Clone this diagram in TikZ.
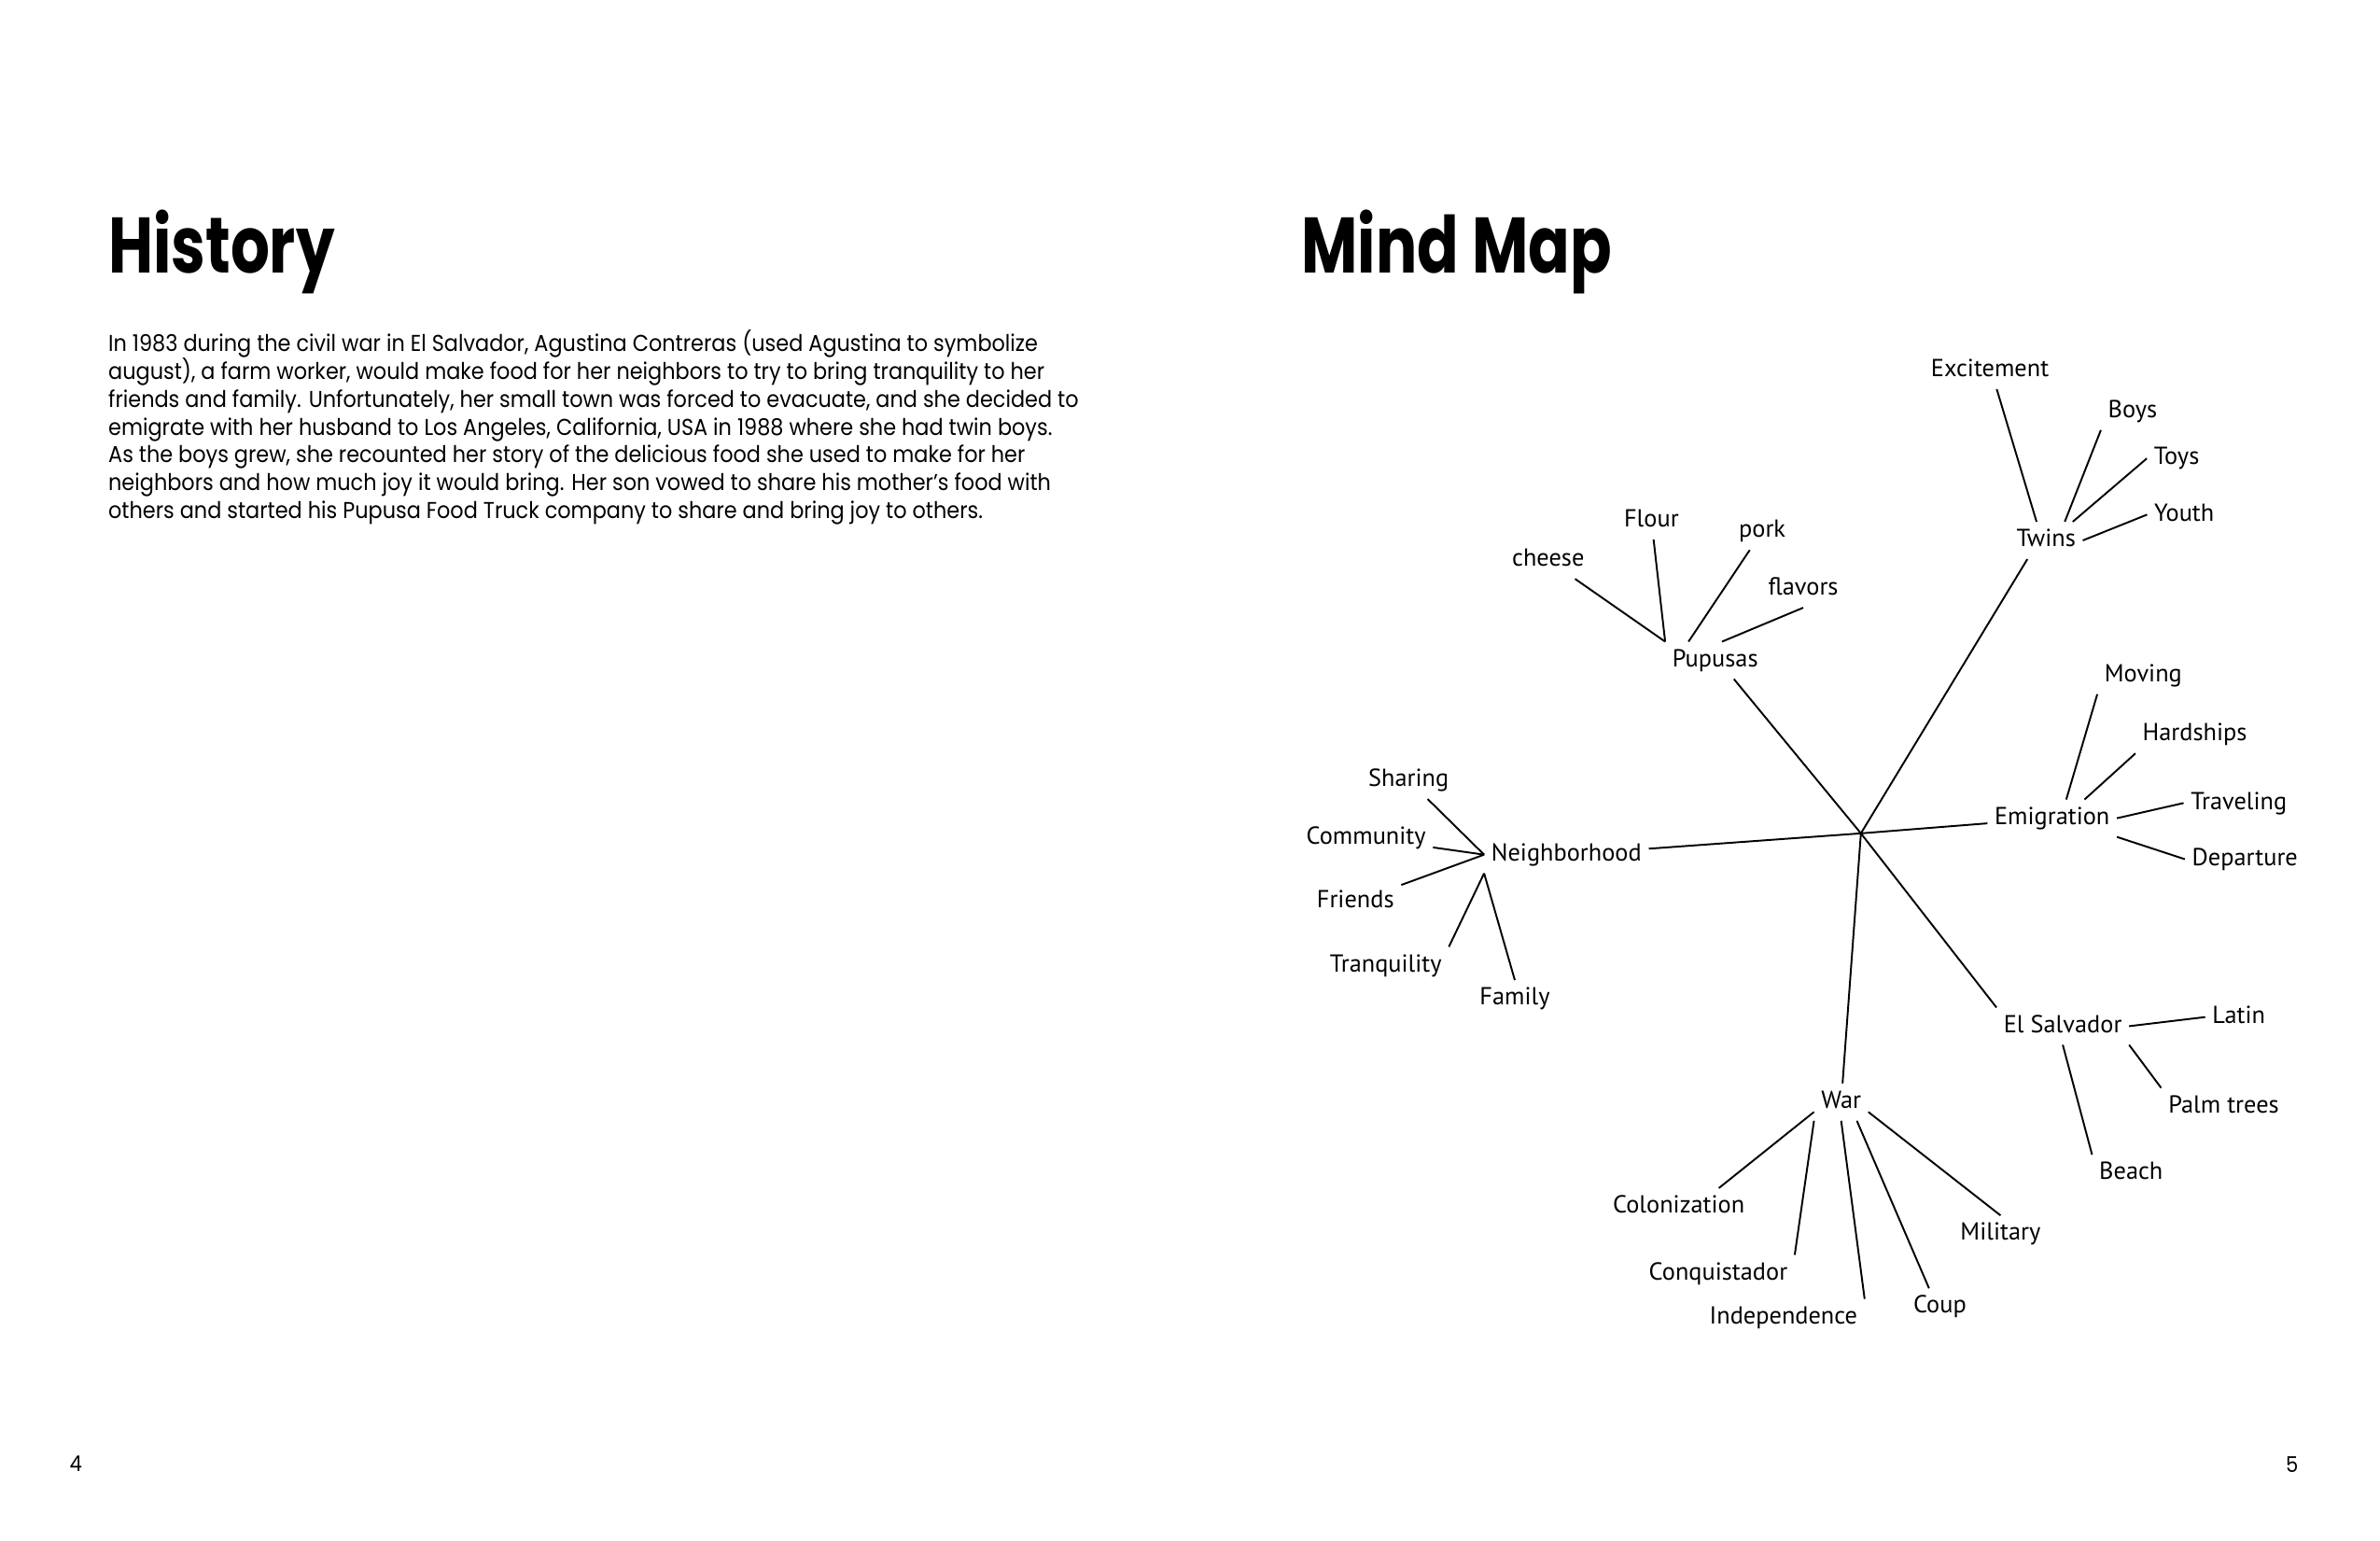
\documentclass[tikz,border=0pt]{standalone}
\usepackage{fontspec}
\setmainfont{PT Sans}
\newfontfamily\headfont{Poppins}[FakeStretch=0.78]
\newfontfamily\bodyfont{Poppins}[FakeStretch=0.91]
\usetikzlibrary{positioning}

\begin{document}
\begin{tikzpicture}[x=0.016263cm,y=-0.016263cm,
      ttl/.style={font=\headfont\bfseries\fontsize{24}{26}\selectfont,anchor=base west,inner sep=0pt},
      txt/.style={font=\bodyfont\fontsize{7}{8.5}\selectfont,align=left,inner sep=0pt},
      pgno/.style={font=\bodyfont\fontsize{6.6}{8}\selectfont,inner sep=0pt},
      lbl/.style={font=\fontsize{7.5}{9}\selectfont,inner sep=2pt,text height=5.4pt,text depth=1.6pt,yshift=-1.4pt},
      ln/.style={line width=0.55pt}]
    \useasboundingbox (0,0) rectangle (1568,1015);
    \node[ttl] (hist) at (71,180) {History};
    \node[ttl] (mmap) at (857,180) {Mind Map};
    \node[txt,below right=0.6cm and 0cm of hist.base west] (story) {In 1983 during the civil war in El Salvador, Agustina Contreras (used Agustina to symbolize\\
      august), a farm worker, would make food for her neighbors to try to bring tranquility to her\\
      friends and family. Unfortunately, her small town was forced to evacuate, and she decided to\\
      emigrate with her husband to Los Angeles, California, USA in 1988 where she had twin boys.\\
      As the boys grew, she recounted her story of the delicious food she used to make for her\\
      neighbors and how much joy it would bring. Her son vowed to share his mother’s food with\\
      others and started his Pupusa Food Truck company to share and bring joy to others.};
    \node[pgno] (pg4) at (50,964) {4};
    \node[pgno] (pg5) at (1510,965) {5};
    \coordinate (hub) at (1226,549);
    \node[lbl] (twins) at (1348,353) {Twins};
    \node[lbl] (excit) at (1311,241) {Excitement};
    \node[lbl] (boys) at (1405,268) {Boys};
    \node[lbl] (toys) at (1434,299) {Toys};
    \node[lbl] (youth) at (1439,336) {Youth};
    \node[lbl] (pupusas) at (1130,432) {Pupusas};
    \node[lbl] (cheese) at (1020,366) {cheese};
    \node[lbl] (flour) at (1088,340) {Flour};
    \node[lbl] (pork) at (1161,347) {pork};
    \node[lbl] (flavors) at (1188,385) {flavors};
    \node[lbl] (nbh) at (1032,560) {Neighborhood};
    \node[lbl] (sharing) at (928,511) {Sharing};
    \node[lbl] (community) at (900,549) {Community};
    \node[lbl] (friends) at (893,591) {Friends};
    \node[lbl] (tranq) at (913,633) {Tranquility};
    \node[lbl] (family) at (998,655) {Family};
    \node[lbl] (emig) at (1352,536) {Emigration};
    \node[lbl] (moving) at (1412,442) {Moving};
    \node[lbl] (hard) at (1446,481) {Hardships};
    \node[lbl] (travel) at (1475,526) {Traveling};
    \node[lbl] (depart) at (1479,563) {Departure};
    \node[lbl] (elsal) at (1359,673) {El Salvador};
    \node[lbl] (latin) at (1475,667) {Latin};
    \node[lbl] (palm) at (1465,726) {Palm trees};
    \node[lbl] (beach) at (1404,770) {Beach};
    \node[lbl] (war) at (1213,723) {War};
    \node[lbl] (colon) at (1106,792) {Colonization};
    \node[lbl] (conq) at (1132,836) {Conquistador};
    \node[lbl] (indep) at (1175,865) {Independence};
    \node[lbl] (coup) at (1278,858) {Coup};
    \node[lbl] (mil) at (1318,810) {Military};
    \draw[ln](hub)--(twins.-135);\draw[ln](hub)--(pupusas.-45);\draw[ln](hub)--(nbh);
    \draw[ln](hub)--(emig);\draw[ln](hub)--(elsal.north west);\draw[ln](hub)--(war);
    \draw[ln](twins.117)--(excit.-70);\draw[ln](twins.45)--(boys.south west);
    \draw[ln](twins.35)--(toys.west);\draw[ln](twins.east)--(youth.west);
    \draw[ln](pupusas.north west)--(cheese);\draw[ln](pupusas.north west)--(flour);
    \draw[ln](pupusas.145)--(pork);\draw[ln](pupusas.70)--(flavors.south);
    \draw[ln](nbh.west)--(sharing);\draw[ln](nbh.west)--(community);\draw[ln](nbh.west)--(friends);
    \draw[ln](nbh.south west)--(tranq.north east);\draw[ln](nbh.south west)--(family.north);
    \draw[ln](emig.53)--(moving.south west);\draw[ln](emig.30)--(hard.south west);
    \draw[ln](emig.east)--(travel.west);\draw[ln](emig.south east)--(depart.west);
    \draw[ln](elsal.east)--(latin.west);\draw[ln](elsal.south east)--(palm.north west);
    \draw[ln](elsal.south)--(beach.north west);
    \draw[ln](war.200)--(colon.25);\draw[ln](war.south west)--(conq.north east);
    \draw[ln](war.south)--(indep.north east);\draw[ln](war.-50)--(coup.120);
    \draw[ln](war.-20)--(mil.north);
  \end{tikzpicture}
\end{document}
